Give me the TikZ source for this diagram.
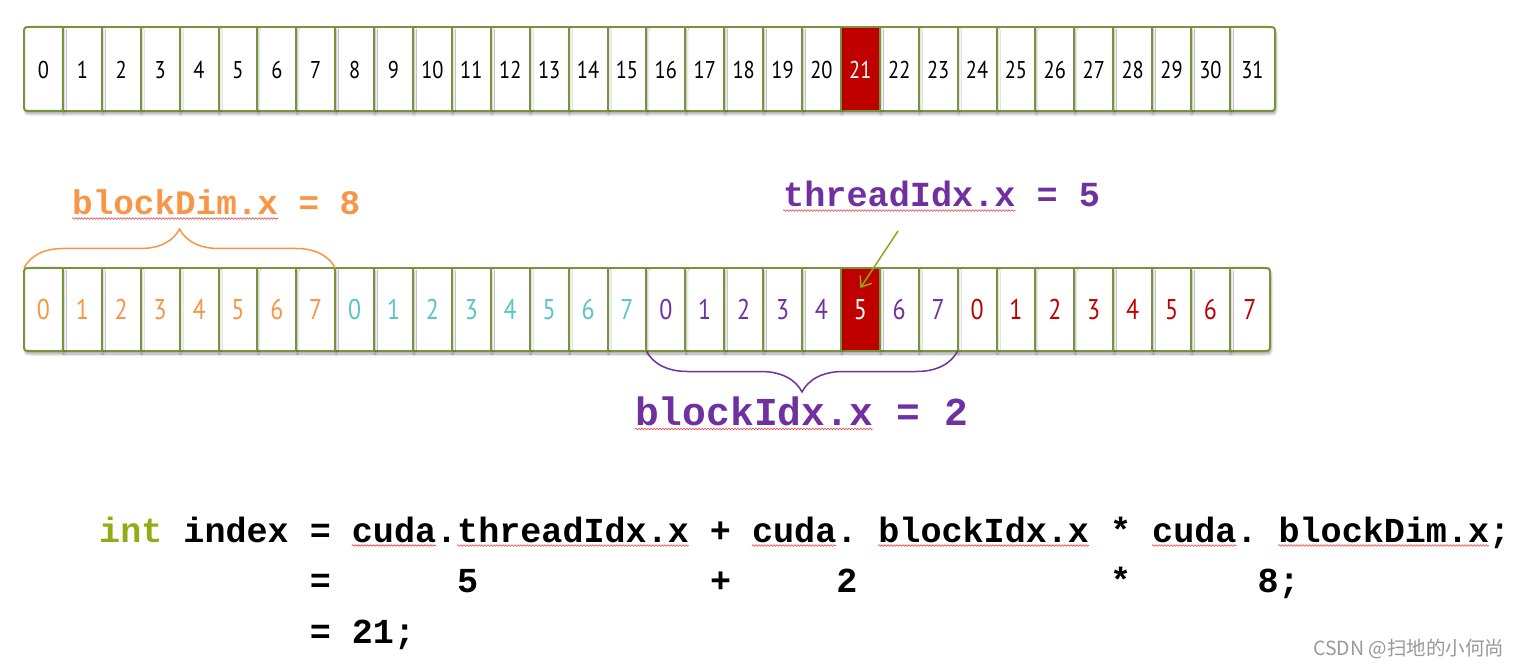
\documentclass[tikz,border=0pt]{standalone}
\usepackage{fontspec}
\usetikzlibrary{arrows.meta,decorations.pathreplacing,decorations.pathmorphing,shadows.blur,calc}
\newfontfamily\numfont[FakeStretch=0.84]{PT Sans}
\newfontfamily\codefont{Liberation Mono}
\newfontfamily\cjkfont{Noto Sans CJK SC}
\definecolor{cellgreen}{HTML}{77933C}
\definecolor{cellred}{HTML}{C00000}
\definecolor{borange}{HTML}{F79646}
\definecolor{bteal}{HTML}{5BC4C8}
\definecolor{bpurple}{HTML}{7030A0}
\definecolor{bred}{HTML}{C00000}
\definecolor{intgreen}{HTML}{8FAE16}
\definecolor{arrgreen}{HTML}{8CAA18}
\definecolor{wavered}{HTML}{E8404A}
\frenchspacing
\begin{document}
\begin{tikzpicture}[x=1pt,y=-1pt,
  cellframe/.style={draw=cellgreen,line width=2pt,line join=round,
    blur shadow={shadow xshift=1pt,shadow yshift=-3pt,shadow blur radius=2.5pt,shadow opacity=35}},
  numcell/.style={inner sep=0pt,outer sep=0pt,draw=none},
  toprow/.style={numcell,minimum height=84pt,font=\numfont\fontsize{24.3}{28}\selectfont},
  botrow/.style={numcell,minimum height=83pt,font=\numfont\fontsize{28.5}{32}\selectfont},
  label/.style={inner sep=0pt,anchor=base west},
  bracestyle/.style={line width=1.5pt,decorate},
  wavy/.style={draw=wavered,line width=0.6pt,decorate,decoration={snake,amplitude=0.8pt,segment length=3pt}},
  code/.style={inner sep=0pt,anchor=base west,font=\codefont\bfseries\fontsize{35.1}{40}\selectfont},
  pointer/.style={draw=arrgreen,line width=1.5pt,-{Straight Barb[length=9pt,width=14pt]}}
]
\useasboundingbox (0,0) rectangle (1517,668);
\def\cw{38.9}
% ---------- top row frames ----------
\foreach \i in {31,30,...,0} {
  \pgfmathsetmacro\xl{24+\i*\cw}
  \ifnum\i=31 \def\xr{1275}\else\pgfmathsetmacro\xr{\xl+\cw}\fi
  \ifnum\i=21 \def\fc{cellred}\else\def\fc{white}\fi
  \ifnum\i=0
    \path[cellframe,fill=\fc] (\xr,27) -- (\xl+7,27) .. controls (\xl,27) .. (\xl,34) -- (\xl,104) .. controls (\xl,111) .. (\xl+7,111) -- (\xr,111) -- cycle;
  \else\ifnum\i=31
    \path[cellframe,fill=\fc] (\xl,27) -- (\xr-7,27) .. controls (\xr,27) .. (\xr,34) -- (\xr,104) .. controls (\xr,111) .. (\xr-7,111) -- (\xl,111) -- cycle;
  \else
    \path[cellframe,fill=\fc] (\xl,27) rectangle (\xr,111);
  \fi\fi
}
% ---------- bottom row frames ----------
\foreach \i in {31,30,...,0} {
  \pgfmathsetmacro\xl{24+\i*\cw}
  \ifnum\i=31 \def\xr{1270}\else\pgfmathsetmacro\xr{\xl+\cw}\fi
  \ifnum\i=21 \def\fc{cellred}\else\def\fc{white}\fi
  \ifnum\i=0
    \path[cellframe,fill=\fc] (\xr,268) -- (\xl+7,268) .. controls (\xl,268) .. (\xl,275) -- (\xl,344) .. controls (\xl,351) .. (\xl+7,351) -- (\xr,351) -- cycle;
  \else\ifnum\i=31
    \path[cellframe,fill=\fc] (\xl,268) -- (\xr-7,268) .. controls (\xr,268) .. (\xr,275) -- (\xr,344) .. controls (\xr,351) .. (\xr-7,351) -- (\xl,351) -- cycle;
  \else
    \path[cellframe,fill=\fc] (\xl,268) rectangle (\xr,351);
  \fi\fi
}
% ---------- numbers ----------
\foreach \i in {0,...,31} {
  \pgfmathsetmacro\xl{24+\i*\cw}
  \ifnum\i=31 \def\xr{1275}\else\pgfmathsetmacro\xr{\xl+\cw}\fi
  \pgfmathsetmacro\xc{(\xl+\xr)/2}
  \pgfmathsetmacro\ww{\xr-\xl}
  \ifnum\i=21 \def\tc{white}\else\def\tc{black}\fi
  \node[toprow,minimum width=\ww pt,text=\tc] (t\i) at (\xc,70) {\i};
}
\foreach \i in {0,...,31} {
  \pgfmathsetmacro\xl{24+\i*\cw}
  \ifnum\i=31 \def\xr{1270}\else\pgfmathsetmacro\xr{\xl+\cw}\fi
  \pgfmathsetmacro\xc{(\xl+\xr)/2}
  \pgfmathsetmacro\ww{\xr-\xl}
  \pgfmathtruncatemacro\blk{\i/8}
  \pgfmathtruncatemacro\th{mod(\i,8)}
  \ifcase\blk \def\tc{borange}\or\def\tc{bteal}\or\def\tc{bpurple}\or\def\tc{bred}\fi
  \ifnum\i=21 \def\tc{white}\fi
  \node[botrow,minimum width=\ww pt,text=\tc] (b\i) at (\xc,309.5) {\th};
}
% ---------- braces ----------
\draw[bracestyle,draw=borange,decoration={brace,amplitude=39pt}] (b0.north west) -- (b7.north east);
\draw[bracestyle,draw=bpurple,decoration={brace,amplitude=41pt}] (b23.south east) -- (b16.south west);
% ---------- labels ----------
\node[label,text=borange,font=\codefont\bfseries\fontsize{34.3}{40}\selectfont] (dimlbl) at (72,215) {blockDim.x = 8};
\draw[wavy] ($(dimlbl.base west)+(0,3.5)$) -- ++(10*20.58,0);
\node[label,text=bpurple,font=\codefont\bfseries\fontsize{35.2}{40}\selectfont] (thrlbl) at (783,207) {threadIdx.x = 5};
\draw[wavy] ($(thrlbl.base west)+(0,3.5)$) -- ++(11*21.12,0);
\node[label,text=bpurple,font=\codefont\bfseries\fontsize{39.6}{44}\selectfont] (blklbl) at (635,425) {blockIdx.x = 2};
\draw[wavy] ($(blklbl.base west)+(0,4)$) -- ++(10*23.76,0);
% ---------- pointer ----------
\coordinate (arrtail) at (898,231);
\draw[pointer] (arrtail) -- ($(b21.north)+(0,20)$);
% ---------- code ----------
\def\ch{21.06}
\node[code] (code1) at (99,542) {\textcolor{intgreen}{int} index = cuda.threadIdx.x + cuda. blockIdx.x * cuda. blockDim.x;};
\node[code] (code2) at ($(code1.base west)+(10*\ch,50.5)$) {=~~~~~~5~~~~~~~~~~~+~~~~~2~~~~~~~~~~~~*~~~~~~8;};
\node[code] (code3) at ($(code1.base west)+(10*\ch,101)$) {= 21;};
\foreach \s/\n in {12/4,17/11,31/4,37/10,50/4,56/10} {
  \draw[wavy] ($(code1.base west)+(\s*\ch,3.5)$) -- ++(\n*\ch,0);
}
% ---------- watermark ----------
\node[label,text=black!40,font=\cjkfont\fontsize{19.5}{22}\selectfont] (wm) at (1313,655) {CSDN @扫地的小何尚};
\end{tikzpicture}
\end{document}
